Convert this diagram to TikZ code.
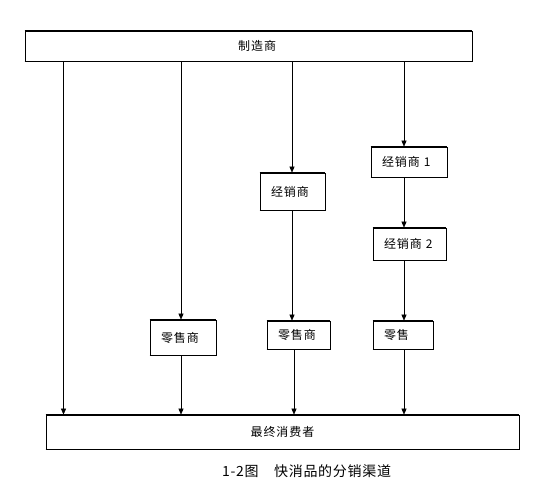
\documentclass[tikz,border=0pt]{standalone}
\usepackage{fontspec}
\setmainfont{Noto Sans CJK SC}[LetterSpace=8]
\newfontfamily\capfont{Noto Sans CJK SC}[LetterSpace=5]
\usetikzlibrary{arrows.meta}
\begin{document}
\begin{tikzpicture}[x=1pt,y=-1pt,
  box/.style={draw, line width=0.7pt, inner ysep=0pt, font=\fontsize{12}{14}\selectfont},
  sbox/.style={box, inner xsep=11pt, align=left},
  arr/.style={line width=0.6pt, -{Triangle[length=6pt,width=5pt]}},
  ln/.style={line width=0.6pt},
  edgeb/.style={line width=1.5pt}]
\useasboundingbox (0,0) rectangle (551,486);
% main boxes
\node[box, minimum width=447pt, minimum height=30pt] (top) at (248.5,46) {};
\node[anchor=west, inner sep=0pt, font=\fontsize{12}{14}\selectfont] (toptext) at (238,46) {制造商};
\node[box, minimum width=473pt, minimum height=34pt] (bot) at (282.5,432) {最终消费者};
% small boxes
\node[sbox, text width=44pt, minimum height=35pt] (r1) at (183,337.5) {零售商};
\node[sbox, text width=43pt, minimum height=37pt] (d) at (292.5,191.5) {经销商};
\node[sbox, text width=54pt, minimum height=30pt] (d1) at (409,162) {经销商 1};
\node[sbox, text width=51pt, minimum height=32pt] (d2) at (409.5,244) {经销商 2};
\node[sbox, text width=41pt, minimum height=28pt] (r2) at (298.5,335) {零售商};
\node[sbox, text width=38pt, minimum height=28pt] (r3) at (403,335) {零售};
% thicker top/bottom edges
\foreach \n in {top,bot,r1,d,d1,d2,r2,r3}
  \draw[edgeb] (\n.north west) -- (\n.north east) (\n.south west) -- (\n.south east);
% line positions
\coordinate (x1) at (63.5,0);
\coordinate (x2) at (181,0);
\coordinate (x3) at (292,0);
\coordinate (x3b) at (294,0);
\coordinate (x4) at (404,0);
% connectors
\draw[arr] (top.south -| x1) -- (bot.north -| x1);
\draw[arr] (top.south -| x2) -- (r1.north -| x2);
\draw[arr] (r1.south -| x2) -- (bot.north -| x2);
\draw[arr] (top.south -| x3) -- (d.north -| x3);
\draw[arr] (d.south -| x3) -- (r2.north -| x3);
\draw[arr] (r2.south -| x3b) -- (bot.north -| x3b);
\draw[arr] (top.south -| x4) -- (d1.north -| x4);
\draw[arr] (d1.south -| x4) -- (d2.north -| x4);
\draw[arr] (d2.south -| x4) -- (r3.north -| x4);
\draw[arr] (r3.south -| x4) -- (bot.north -| x4);
% caption
\node[anchor=west, inner sep=0pt, font=\capfont\fontsize{14}{16}\selectfont] (cap) at (222,471) {1-2图　快消品的分销渠道};
\end{tikzpicture}
\end{document}
